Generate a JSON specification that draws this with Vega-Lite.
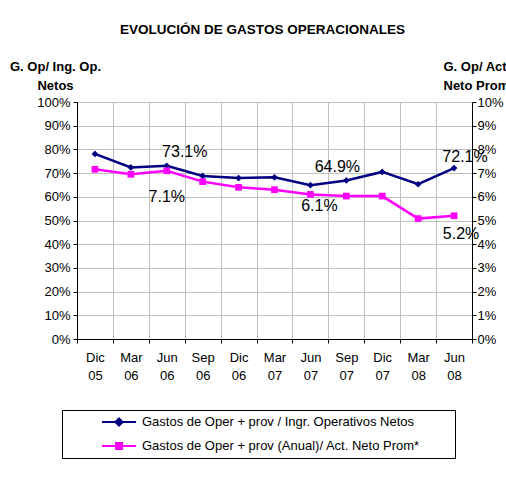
{
  "$schema": "https://vega.github.io/schema/vega-lite/v6.json",
  "width": 395,
  "height": 237,
  "autosize": {"type": "none"},
  "padding": {"left": 77, "top": 102, "right": 34, "bottom": 141},
  "background": "white",
  "title": {
    "text": "EVOLUCIÓN DE GASTOS OPERACIONALES",
    "frame": "group",
    "anchor": "middle",
    "offset": 24,
    "dx": -12,
    "font": "Liberation Sans",
    "fontSize": 13.5,
    "fontWeight": "bold",
    "color": "black"
  },
  "datasets": {
    "d": [
      {"periodo": "Dic 05", "serie": "Gastos de Oper + prov / Ingr. Operativos Netos", "valor": 0.781},
      {"periodo": "Mar 06", "serie": "Gastos de Oper + prov / Ingr. Operativos Netos", "valor": 0.724},
      {"periodo": "Jun 06", "serie": "Gastos de Oper + prov / Ingr. Operativos Netos", "valor": 0.731},
      {"periodo": "Sep 06", "serie": "Gastos de Oper + prov / Ingr. Operativos Netos", "valor": 0.688},
      {"periodo": "Dic 06", "serie": "Gastos de Oper + prov / Ingr. Operativos Netos", "valor": 0.679},
      {"periodo": "Mar 07", "serie": "Gastos de Oper + prov / Ingr. Operativos Netos", "valor": 0.682},
      {"periodo": "Jun 07", "serie": "Gastos de Oper + prov / Ingr. Operativos Netos", "valor": 0.649},
      {"periodo": "Sep 07", "serie": "Gastos de Oper + prov / Ingr. Operativos Netos", "valor": 0.669},
      {"periodo": "Dic 07", "serie": "Gastos de Oper + prov / Ingr. Operativos Netos", "valor": 0.705},
      {"periodo": "Mar 08", "serie": "Gastos de Oper + prov / Ingr. Operativos Netos", "valor": 0.653},
      {"periodo": "Jun 08", "serie": "Gastos de Oper + prov / Ingr. Operativos Netos", "valor": 0.721},
      {"periodo": "Dic 05", "serie": "Gastos de Oper + prov (Anual)/ Act. Neto Prom*", "valor": 0.0716},
      {"periodo": "Mar 06", "serie": "Gastos de Oper + prov (Anual)/ Act. Neto Prom*", "valor": 0.0695},
      {"periodo": "Jun 06", "serie": "Gastos de Oper + prov (Anual)/ Act. Neto Prom*", "valor": 0.071},
      {"periodo": "Sep 06", "serie": "Gastos de Oper + prov (Anual)/ Act. Neto Prom*", "valor": 0.0664},
      {"periodo": "Dic 06", "serie": "Gastos de Oper + prov (Anual)/ Act. Neto Prom*", "valor": 0.064},
      {"periodo": "Mar 07", "serie": "Gastos de Oper + prov (Anual)/ Act. Neto Prom*", "valor": 0.063},
      {"periodo": "Jun 07", "serie": "Gastos de Oper + prov (Anual)/ Act. Neto Prom*", "valor": 0.061},
      {"periodo": "Sep 07", "serie": "Gastos de Oper + prov (Anual)/ Act. Neto Prom*", "valor": 0.0603},
      {"periodo": "Dic 07", "serie": "Gastos de Oper + prov (Anual)/ Act. Neto Prom*", "valor": 0.0603},
      {"periodo": "Mar 08", "serie": "Gastos de Oper + prov (Anual)/ Act. Neto Prom*", "valor": 0.0508},
      {"periodo": "Jun 08", "serie": "Gastos de Oper + prov (Anual)/ Act. Neto Prom*", "valor": 0.052}
    ]
  },
  "data": {"name": "d"},
  "encoding": {
    "x": {
      "field": "periodo",
      "type": "ordinal",
      "sort": ["Dic 05", "Mar 06", "Jun 06", "Sep 06", "Dic 06", "Mar 07", "Jun 07", "Sep 07", "Dic 07", "Mar 08", "Jun 08"],
      "scale": {"paddingInner": 0, "paddingOuter": 0},
      "axis": {
        "title": null,
        "labelAngle": 0,
        "labelExpr": "split(datum.label, ' ')",
        "labelBaseline": "top",
        "labelLineHeight": 18,
        "labelPadding": 8,
        "tickBand": "extent",
        "grid": true,
        "tickSize": 4
      }
    },
    "color": {
      "field": "serie",
      "type": "nominal",
      "scale": {
        "domain": ["Gastos de Oper + prov / Ingr. Operativos Netos", "Gastos de Oper + prov (Anual)/ Act. Neto Prom*"],
        "range": ["#000080", "#ff00ff"]
      },
      "legend": {
        "orient": "none",
        "legendX": -15,
        "legendY": 308,
        "title": null,
        "strokeColor": "black",
        "padding": 5,
        "symbolSize": 144,
        "symbolOffset": 45,
        "labelOffset": 16,
        "rowPadding": 9,
        "labelFont": "Liberation Sans",
        "labelFontSize": 13,
        "labelColor": "black",
        "labelLimit": 450,
        "labelExpr": "datum.label + '\u2800\u2800\u2800'",
        "encode": {
          "symbols": {
            "update": {
              "shape": {"signal": "datum.value === 'Gastos de Oper + prov (Anual)/ Act. Neto Prom*' ? 'M-2.83,0L2.83,0M-0.5,-0.5L0.5,-0.5L0.5,0.5L-0.5,0.5Z' : 'M-2.83,0L2.83,0M0,-0.6L0.6,0L0,0.6L-0.6,0Z'"},
              "fill": {"signal": "datum.value === 'Gastos de Oper + prov (Anual)/ Act. Neto Prom*' ? '#ff00ff' : '#000080'"},
              "stroke": {"signal": "datum.value === 'Gastos de Oper + prov (Anual)/ Act. Neto Prom*' ? '#ff00ff' : '#000080'"},
              "strokeWidth": {"value": 2},
              "opacity": {"value": 1},
              "fillOpacity": {"value": 1}
            }
          }
        }
      }
    }
  },
  "layer": [
    {
      "transform": [{"filter": {"field": "serie", "equal": "Gastos de Oper + prov / Ingr. Operativos Netos"}}],
      "encoding": {
        "y": {
          "field": "valor",
          "type": "quantitative",
          "scale": {"domain": [0, 1], "nice": false},
          "axis": {
            "orient": "left",
            "values": [0, 0.1, 0.2, 0.3, 0.4, 0.5, 0.6, 0.7, 0.8, 0.9, 1],
            "format": ".0%",
            "grid": true,
            "tickSize": 4,
            "labelPadding": 3,
            "title": ["G. Op/ Ing. Op.", "Netos"],
            "titleAngle": 0,
            "titleAlign": "center",
            "titleBaseline": "top",
            "titleX": -22,
            "titleY": -42,
            "titleLineHeight": 19
          }
        }
      },
      "layer": [
        {"mark": {"type": "line", "strokeWidth": 2.5}},
        {"mark": {"type": "point", "filled": true, "shape": "diamond", "size": 45, "opacity": 1}},
        {"transform": [{"filter": {"field": "periodo", "equal": "Jun 06"}}], "mark": {"type": "text", "dx": 18, "dy": -14, "fontSize": 16, "font": "Liberation Sans"}, "encoding": {"text": {"field": "valor", "format": ".1%"}, "color": {"value": "black"}}},
        {"transform": [{"filter": {"field": "periodo", "equal": "Jun 07"}}], "mark": {"type": "text", "dx": 27, "dy": -18, "fontSize": 16, "font": "Liberation Sans"}, "encoding": {"text": {"field": "valor", "format": ".1%"}, "color": {"value": "black"}}},
        {"transform": [{"filter": {"field": "periodo", "equal": "Jun 08"}}], "mark": {"type": "text", "dx": 11, "dy": -11, "fontSize": 16, "font": "Liberation Sans"}, "encoding": {"text": {"field": "valor", "format": ".1%"}, "color": {"value": "black"}}}
      ]
    },
    {
      "transform": [{"filter": {"field": "serie", "equal": "Gastos de Oper + prov (Anual)/ Act. Neto Prom*"}}],
      "encoding": {
        "y": {
          "field": "valor",
          "type": "quantitative",
          "scale": {"domain": [0, 0.1], "nice": false},
          "axis": {
            "orient": "right",
            "values": [0, 0.01, 0.02, 0.03, 0.04, 0.05, 0.06, 0.07, 0.08, 0.09, 0.1],
            "format": ".0%",
            "grid": false,
            "tickSize": 4,
            "labelPadding": 1,
            "title": ["G. Op/ Act.", "Neto Prom"],
            "titleAngle": 0,
            "titleAlign": "left",
            "titleBaseline": "top",
            "titleX": -29,
            "titleY": -42,
            "titleLineHeight": 19
          }
        }
      },
      "layer": [
        {"mark": {"type": "line", "strokeWidth": 2.5}},
        {"mark": {"type": "point", "filled": true, "shape": "square", "size": 45, "opacity": 1}},
        {"transform": [{"filter": {"field": "periodo", "equal": "Jun 06"}}], "mark": {"type": "text", "dx": 0, "dy": 26, "fontSize": 16, "font": "Liberation Sans"}, "encoding": {"text": {"field": "valor", "format": ".1%"}, "color": {"value": "black"}}},
        {"transform": [{"filter": {"field": "periodo", "equal": "Jun 07"}}], "mark": {"type": "text", "dx": 9, "dy": 12, "fontSize": 16, "font": "Liberation Sans"}, "encoding": {"text": {"field": "valor", "format": ".1%"}, "color": {"value": "black"}}},
        {"transform": [{"filter": {"field": "periodo", "equal": "Jun 08"}}], "mark": {"type": "text", "dx": 7, "dy": 18, "fontSize": 16, "font": "Liberation Sans"}, "encoding": {"text": {"field": "valor", "format": ".1%"}, "color": {"value": "black"}}}
      ]
    }
  ],
  "resolve": {"scale": {"y": "independent"}},
  "config": {
    "view": {"stroke": null},
    "font": "Liberation Sans",
    "axis": {
      "labelFont": "Liberation Sans",
      "labelFontSize": 13,
      "labelColor": "black",
      "titleFont": "Liberation Sans",
      "titleFontSize": 13,
      "titleFontWeight": "bold",
      "titleColor": "black",
      "domainColor": "black",
      "tickColor": "black",
      "gridColor": "#c0c0c0",
      "gridWidth": 1
    }
  }
}
